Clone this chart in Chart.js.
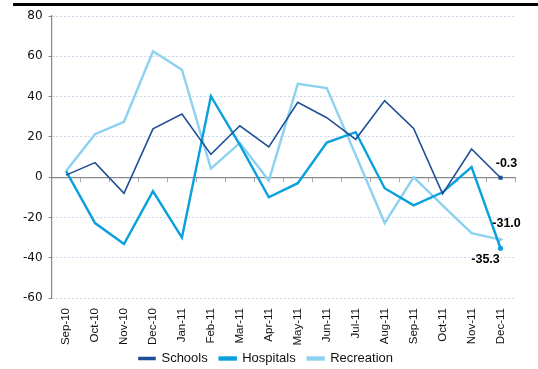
<!DOCTYPE html>
<html>
<head>
<meta charset="utf-8">
<script src="https://cdn.jsdelivr.net/npm/chart.js@4.4.1/dist/chart.umd.min.js"></script>
<style>
  html, body { margin: 0; padding: 0; background: #fff; }
  #wrap { position: relative; width: 538px; height: 369px; }
  #topRule { position: absolute; left: 13px; right: 0; top: 3px; height: 2.5px; background: #000; }
  canvas { position: absolute; left: 0; top: 0; }
</style>
</head>
<body>
<div id="wrap">
  <div id="topRule"></div>
  <canvas id="chart" width="538" height="369"></canvas>
</div>
<script>
// Categories
const months = ['Sep-10', 'Oct-10', 'Nov-10', 'Dec-10', 'Jan-11', 'Feb-11', 'Mar-11', 'Apr-11',
                'May-11', 'Jun-11', 'Jul-11', 'Aug-11', 'Sep-11', 'Oct-11', 'Nov-11', 'Dec-11'];

// Series values (% change)
const schools    = [1, 7.2, -8, 24, 31.3, 11.3, 25.5, 15, 37.2, 29.5, 18.8, 38, 24.2, -8.3, 14, -0.3];
const hospitals  = [3, -22.8, -33.2, -7, -30, 40.2, 16, -10, -3, 17.2, 22.3, -5.5, -14, -7.5, 5, -35.3];
const recreation = [3, 21.3, 27.5, 62.5, 53.3, 4.2, 17, -1.7, 46.3, 44.2, 11, -22.8, 0, -14, -27.8, -31];

// Y axis range
const yMin = -60, yMax = 80, yStep = 20;

const colors = {
    schools:    '#1f4e96',
    hospitals:  '#0aa0dc',
    recreation: '#8dd1f0'
};

const lastIdx = months.length - 1;
const onlyLast = (r) => (ctx) => ctx.dataIndex === lastIdx ? r : 0;

// Value labels on the last point of each series
const endLabelPlugin = {
    id: 'endLabels',
    afterDatasetsDraw(chart, args, opts) {
        const c = chart.ctx;
        c.save();
        c.font = 'bold 12.5px "Liberation Sans", Arial, sans-serif';
        c.fillStyle = '#000';
        c.textAlign = 'center';
        c.textBaseline = 'middle';
        chart.data.datasets.forEach((ds, i) => {
            const off = opts.offsets[i];
            const pt = chart.getDatasetMeta(i).data[lastIdx];
            const v = ds.data[lastIdx];
            c.fillText(v.toFixed(1), pt.x + off[0], pt.y + off[1]);
        });
        c.restore();
    }
};

// pull the legend up closer to the rotated month labels
const legendNudge = {
    id: 'legendNudge',
    afterLayout(chart) {
        if (chart.legend) {
            chart.legend.top -= 6;
            chart.legend.bottom -= 6;
        }
    }
};

new Chart(document.getElementById('chart'), {
    type: 'line',
    data: {
        labels: months,
        datasets: [{
            label: 'Schools',
            data: schools,
            borderColor: colors.schools,
            backgroundColor: colors.schools,
            borderWidth: 1.6,
            pointStyle: 'rect',
            pointRadius: onlyLast(3),
            pointBorderWidth: 0,
        }, {
            label: 'Hospitals',
            data: hospitals,
            borderColor: colors.hospitals,
            backgroundColor: colors.hospitals,
            borderWidth: 2.4,
            pointStyle: 'circle',
            pointRadius: onlyLast(2.6),
            pointBorderWidth: 0,
        }, {
            label: 'Recreation',
            data: recreation,
            borderColor: colors.recreation,
            backgroundColor: colors.recreation,
            borderWidth: 2.4,
            pointStyle: 'triangle',
            rotation: 90,
            pointRadius: onlyLast(3),
            pointBorderWidth: 0,
        }]
    },
    options: {
        responsive: false,
        animation: false,
        layout: { padding: { left: 17, right: 23, top: 16, bottom: -12 } },
        elements: { line: { tension: 0 } },
        plugins: {
            legend: {
                position: 'bottom',
                labels: {
                    boxWidth: 16,
                    boxHeight: 2,
                    padding: 12,
                    color: '#111',
                    font: { family: '"Liberation Sans", Arial, sans-serif', size: 13 }
                }
            },
            tooltip: { enabled: false },
            endLabels: { offsets: [[6, -14], [-15, 11], [6, -16]] }
        },
        scales: {
            x: {
                offset: true,
                grid: { display: false, drawTicks: false },
                border: { display: false },
                ticks: {
                    minRotation: 90,
                    maxRotation: 90,
                    padding: 10,
                    color: '#111',
                    font: { family: '"Liberation Sans", Arial, sans-serif', size: 11.5 }
                },
                afterFit: (scale) => { scale.height = 48; }
            },
            // zero line with category tick marks
            xZero: {
                type: 'category',
                labels: months,
                position: { y: 0 },
                offset: true,
                ticks: { display: false },
                border: { display: true, color: '#888', width: 1.2 },
                grid: { drawOnChartArea: false, offset: true, tickLength: 4, color: '#aaa', tickWidth: 1 }
            },
            y: {
                min: yMin,
                max: yMax,
                ticks: {
                    stepSize: yStep,
                    padding: 6,
                    color: '#111',
                    font: { family: '"DejaVu Sans", Verdana, sans-serif', size: 12 }
                },
                border: { display: true, color: '#888', width: 1.2, dash: [2, 2] },
                grid: {
                    color: (ctx) => ctx.tick && ctx.tick.value === 0 ? 'rgba(0,0,0,0)' : '#c9d7ee',
                    tickColor: '#888',
                    tickLength: 3,
                    tickBorderDash: []
                }
            }
        }
    },
    plugins: [endLabelPlugin, legendNudge]
});
</script>
</body>
</html>
